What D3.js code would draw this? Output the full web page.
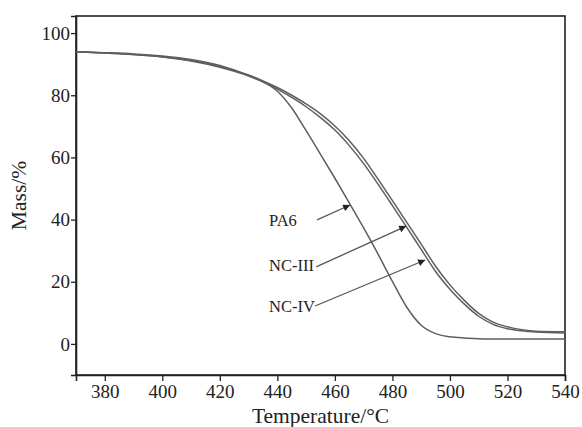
<!DOCTYPE html>
<html>
<head>
<meta charset="utf-8">
<script src="https://cdn.jsdelivr.net/npm/d3@7"></script>
<style>
  body { margin: 0; background: #fff; }
  svg { display: block; font-family: "Liberation Serif", "DejaVu Serif", serif; }
</style>
</head>
<body>
<div id="container"><svg></svg></div>
<script>
let width = 582;
let height = 427;

// temperature / mass readings
let temps = [370, 380, 390, 400, 410, 420, 430, 435, 440, 445, 450, 455, 460, 465, 470, 475, 480, 485, 490, 495, 500, 505, 510, 515, 520, 525, 530, 540];
let massPA6 = [94.0, 93.7, 93.3, 92.6, 91.5, 89.6, 86.4, 84.3, 81.3, 75.9, 68.6, 61.0, 53.3, 45.4, 37.3, 28.9, 20.1, 11.8, 6.0, 3.3, 2.3, 1.9, 1.7, 1.6, 1.6, 1.6, 1.6, 1.6];
let massNC3 = [94.0, 93.6, 93.1, 92.3, 91.0, 89.0, 86.2, 84.3, 82.0, 79.3, 76.3, 72.8, 68.8, 63.8, 58.0, 51.4, 44.5, 37.5, 30.4, 23.3, 17.6, 12.8, 8.9, 6.3, 4.9, 4.2, 3.8, 3.5];
let massNC4 = [94.0, 93.6, 93.1, 92.4, 91.2, 89.3, 86.5, 84.6, 82.5, 80.0, 77.2, 74.0, 70.1, 65.4, 59.7, 53.0, 46.1, 39.1, 32.1, 25.0, 19.0, 14.0, 9.8, 7.0, 5.5, 4.6, 4.1, 3.9];

let xTicks = [380, 400, 420, 440, 460, 480, 500, 520, 540];
let yTicks = [0, 20, 40, 60, 80, 100];

// label text, label anchor, arrow start, arrow tip (data units)
let labels = [
  {name: 'PA6',    lx: 437.1, ly: 37.9, x0: 453.8, y0: 39.9, x1: 465.3, y1: 44.7},
  {name: 'NC-III', lx: 437.1, ly: 23.5, x0: 453.5, y0: 24.8, x1: 484.8, y1: 37.9},
  {name: 'NC-IV',  lx: 437.1, ly: 10.3, x0: 453.1, y0: 12.2, x1: 491.4, y1: 27.0}
];

let series = [
  {name: 'PA6', values: massPA6},
  {name: 'NC-III', values: massNC3},
  {name: 'NC-IV', values: massNC4}
];

let margin = {left: 76, right: 17, top: 16, bottom: 52};
let serif = '"Liberation Serif", "Times New Roman", serif';

let svg = d3.select('#container').select('svg')
    .attr('width', width)
    .attr('height', height);

let x = d3.scaleLinear().domain([370, 540]).range([margin.left, width - margin.right]);
let y = d3.scaleLinear().domain([-10, 105.5]).range([height - margin.bottom, margin.top]);

// frame
svg.append('rect')
    .attr('x', margin.left)
    .attr('y', margin.top)
    .attr('width', width - margin.left - margin.right)
    .attr('height', height - margin.top - margin.bottom)
    .attr('fill', 'none')
    .attr('stroke', '#222')
    .attr('stroke-width', 1.6);

// axes
let xAxis = svg.append('g')
    .attr('transform', `translate(0, ${height - margin.bottom})`)
    .call(d3.axisBottom(x).tickValues(xTicks).tickSize(6).tickPadding(4));
let yAxis = svg.append('g')
    .attr('transform', `translate(${margin.left}, 0)`)
    .call(d3.axisLeft(y).tickValues(yTicks).tickSize(5).tickPadding(1));
[xAxis, yAxis].forEach(a => {
    a.attr('font-family', serif).attr('font-size', 19);
    a.select('.domain').attr('stroke', '#222').attr('stroke-width', 1.6);
    a.selectAll('.tick line').attr('stroke', '#222').attr('stroke-width', 1.3);
    a.selectAll('.tick text').attr('fill', '#222').attr('font-family', serif);
});

// curves
let line = d3.line()
    .x((d, i) => x(temps[i]))
    .y(d => y(d))
    .curve(d3.curveMonotoneX);

svg.append('g')
    .selectAll('path')
    .data(series)
    .join('path')
    .attr('d', d => line(d.values))
    .attr('fill', 'none')
    .attr('stroke', '#5e5e5e')
    .attr('stroke-width', 1.5);

// arrows
svg.append('defs').append('marker')
    .attr('id', 'head')
    .attr('viewBox', '0 0 10 10')
    .attr('refX', 10)
    .attr('refY', 5)
    .attr('markerWidth', 10)
    .attr('markerHeight', 7)
    .attr('markerUnits', 'userSpaceOnUse')
    .attr('orient', 'auto')
    .append('path')
    .attr('d', 'M0,0 L10,5 L0,10 Z')
    .attr('fill', '#222');

svg.append('g')
    .selectAll('line')
    .data(labels)
    .join('line')
    .attr('x1', d => x(d.x0))
    .attr('y1', d => y(d.y0))
    .attr('x2', d => x(d.x1))
    .attr('y2', d => y(d.y1))
    .attr('stroke', '#555')
    .attr('stroke-width', 1.3)
    .attr('marker-end', 'url(#head)');

svg.append('g')
    .selectAll('text')
    .data(labels)
    .join('text')
    .attr('x', d => x(d.lx))
    .attr('y', d => y(d.ly))
    .attr('fill', '#222')
    .attr('font-family', serif)
    .attr('font-size', 16.5)
    .text(d => d.name);

// axis titles
svg.append('text')
    .attr('x', (margin.left + width - margin.right) / 2)
    .attr('y', 423)
    .attr('text-anchor', 'middle')
    .attr('fill', '#222')
    .attr('font-family', serif)
    .attr('font-size', 21.5)
    .text('Temperature/°C');

svg.append('text')
    .attr('transform', `translate(26, ${(margin.top + height - margin.bottom) / 2}) rotate(-90)`)
    .attr('text-anchor', 'middle')
    .attr('fill', '#222')
    .attr('font-family', serif)
    .attr('font-size', 21.5)
    .text('Mass/%');
</script>
</body>
</html>
